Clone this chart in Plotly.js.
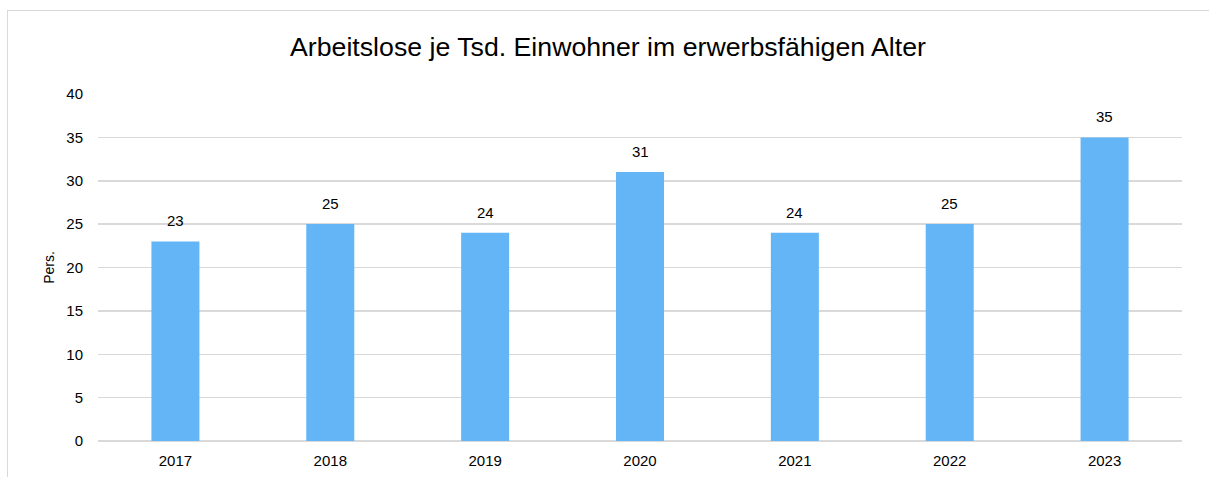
<!DOCTYPE html>
<html>
<head>
<meta charset="utf-8">
<script src="https://cdn.plot.ly/plotly-3.0.1.min.js"></script>
<style>
html,body{margin:0;padding:0;background:#fff;width:1209px;height:477px;overflow:hidden;}
#frame{position:absolute;left:7px;top:10px;width:1220px;height:480px;border:1px solid #d9d9d9;box-sizing:border-box;}
#chart{position:absolute;left:0;top:0;width:1209px;height:477px;}
</style>
</head>
<body>
<div id="frame"></div>
<div id="chart"></div>
<script>
const years = ["2017","2018","2019","2020","2021","2022","2023"];
const values = [23,25,24,31,24,25,35];
const chartTitle = "Arbeitslose je Tsd. Einwohner im erwerbsfähigen Alter";
const yTitle = "Pers.";
const yTicks = [0,5,10,15,20,25,30,35,40];

const font = "Liberation Sans, Arial, sans-serif";

const trace = {
  type: "bar",
  x: years,
  y: values,
  marker: {color: "#64B5F6"},
  hoverinfo: "x+y"
};

const annotations = years.map((yr, i) => ({
  x: i, y: values[i], xref: "x", yref: "y",
  text: String(values[i]), showarrow: false,
  yanchor: "bottom", yshift: 10,
  font: {family: font, size: 15, color: "#000"}
}));

const layout = {
  width: 1209, height: 477,
  margin: {l: 98, r: 27, t: 94, b: 36},
  paper_bgcolor: "rgba(0,0,0,0)",
  plot_bgcolor: "rgba(0,0,0,0)",
  showlegend: false,
  bargap: 0.69,
  title: {text: chartTitle, font: {family: font, size: 26.7, color: "#000"}, x: 608/1209, xanchor: "center", xref: "container", y: 1 - 47/477, yanchor: "middle"},
  font: {family: font, color: "#000", size: 15},
  xaxis: {
    type: "category",
    categoryarray: years,
    range: [-0.5, years.length - 0.5],
    autorange: false,
    showgrid: false, zeroline: false, showline: false,
    ticks: "", ticklabelstandoff: 9,
    tickfont: {family: font, size: 15, color: "#000"},
    fixedrange: true
  },
  yaxis: {
    range: [0, 40],
    autorange: false,
    tickvals: yTicks,
    ticktext: yTicks.map(String),
    showgrid: true, gridcolor: "#d9d9d9", gridwidth: 1.5,
    zeroline: true, zerolinecolor: "#d9d9d9", zerolinewidth: 1.5,
    showline: false, ticks: "", ticklabelstandoff: 14,
    tickfont: {family: font, size: 15, color: "#000"},
    title: {text: yTitle, font: {family: font, size: 14, color: "#000"}, standoff: 8},
    fixedrange: true
  },
  annotations: annotations
};

Plotly.newPlot("chart", [trace], layout, {displayModeBar: false, staticPlot: true});
</script>
</body>
</html>
